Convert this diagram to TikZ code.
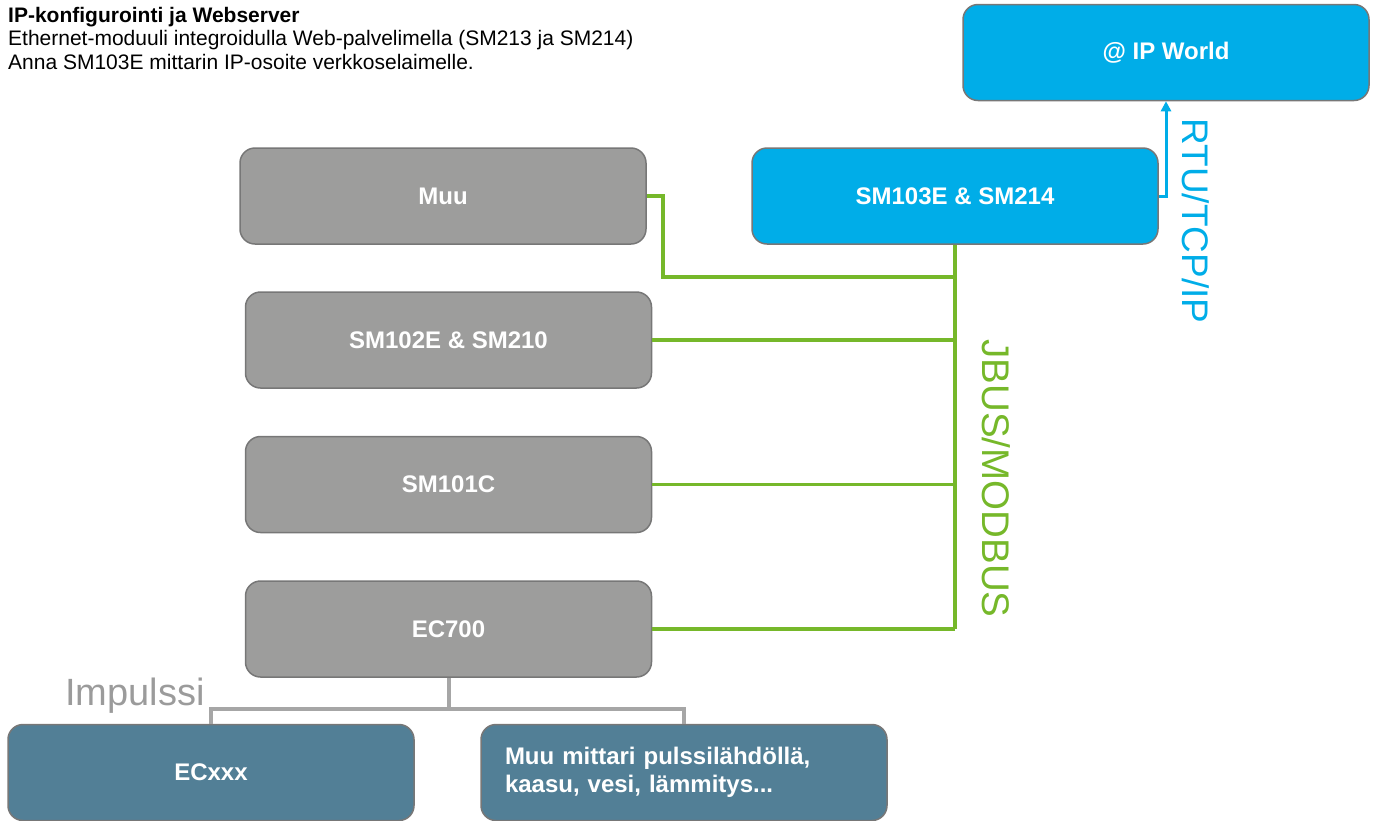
\documentclass[tikz,border=0pt]{standalone}
\usepackage{fontspec}
\setmainfont{Liberation Sans}
\usetikzlibrary{arrows.meta}
\definecolor{boxgray}{HTML}{9D9D9C}
\definecolor{edgegray}{HTML}{777777}
\definecolor{ipblue}{HTML}{00ADE8}
\definecolor{teal}{HTML}{527F96}
\definecolor{busgreen}{HTML}{76B82A}
\definecolor{linegray}{HTML}{A6A6A6}
\definecolor{txtgray}{HTML}{9B9B9B}
\tikzset{
  box/.style={draw=edgegray, line width=1.5pt, rounded corners=15pt,
    minimum width=406pt, minimum height=96pt, text=white,
    font=\fontsize{24}{28}\selectfont\bfseries, inner sep=0pt},
  graybox/.style={box, fill=boxgray},
  bluebox/.style={box, fill=ipblue},
  tealbox/.style={box, fill=teal},
  bus/.style={draw=busgreen, line width=3.5pt},
  ipline/.style={draw=ipblue, line width=3pt, -{Triangle[length=10pt,width=10pt]}},
  pulse/.style={draw=linegray, line width=4pt},
  vlabel/.style={rotate=-90, inner sep=0pt}
}
\begin{document}
\begin{tikzpicture}[x=1pt,y=-1pt]
\useasboundingbox (0,0) rectangle (1377,820);
\node[anchor=north west, inner sep=0pt, align=left, font=\fontsize{21}{23.5}\selectfont] (hdr) at (8,7)
  {\textbf{IP-konfigurointi ja Webserver}\\Ethernet-moduuli integroidulla Web-palvelimella (SM213 ja SM214)\\Anna SM103E mittarin IP-osoite verkkoselaimelle.};
\node[bluebox] (ipw) at (1166,52.5) {@ IP World};
\node[bluebox] (sm103) at (955,196) {SM103E \& SM214};
\node[graybox] (muu) at (443,196) {Muu};
\node[graybox] (sm102) at (448.5,340) {SM102E \& SM210};
\node[graybox] (sm101) at (448.5,484.5) {SM101C};
\node[graybox] (ec700) at (448.5,629) {EC700};
\node[tealbox] (ecxxx) at (211,772.5) {ECxxx};
\node[tealbox, text width=358pt, inner xsep=24pt, align=left] (muum) at (684,772.5)
  {Muu mittari pulssilähdöllä,\\kaasu, vesi, lämmitys...};
% bus
\draw[bus] (sm103.south) -- (sm103.south |- ec700.east);
\draw[bus] (muu.east) -- ++(16,0) |- (sm103.south |- 0,277);
\draw[bus] (sm102.east) -- (sm102.east -| sm103.south);
\draw[bus] (sm101.east) -- (sm101.east -| sm103.south);
\draw[bus] (ec700.east) -- (ec700.east -| sm103.south);
\node[vlabel, text=busgreen, font=\fontsize{38.5}{40}\selectfont] (jbus) at (996.5,478.5) {JBUS/MODBUS};
% ip
\draw[ipline] (sm103.east) -| (ipw.south);
\node[vlabel, text=ipblue, font=\fontsize{37}{40}\selectfont] (rtu) at (1196,221) {RTU/TCP/IP};
% impulses
\draw[pulse] (ec700.south) -- ++(0,31) -| (ecxxx.north);
\draw[pulse] (ec700.south) ++(0,31) -| (muum.north);
\node[anchor=base west, inner sep=0pt, text=txtgray, font=\fontsize{38}{40}\selectfont] (imp) at (65,705) {Impulssi};
\end{tikzpicture}
\end{document}
